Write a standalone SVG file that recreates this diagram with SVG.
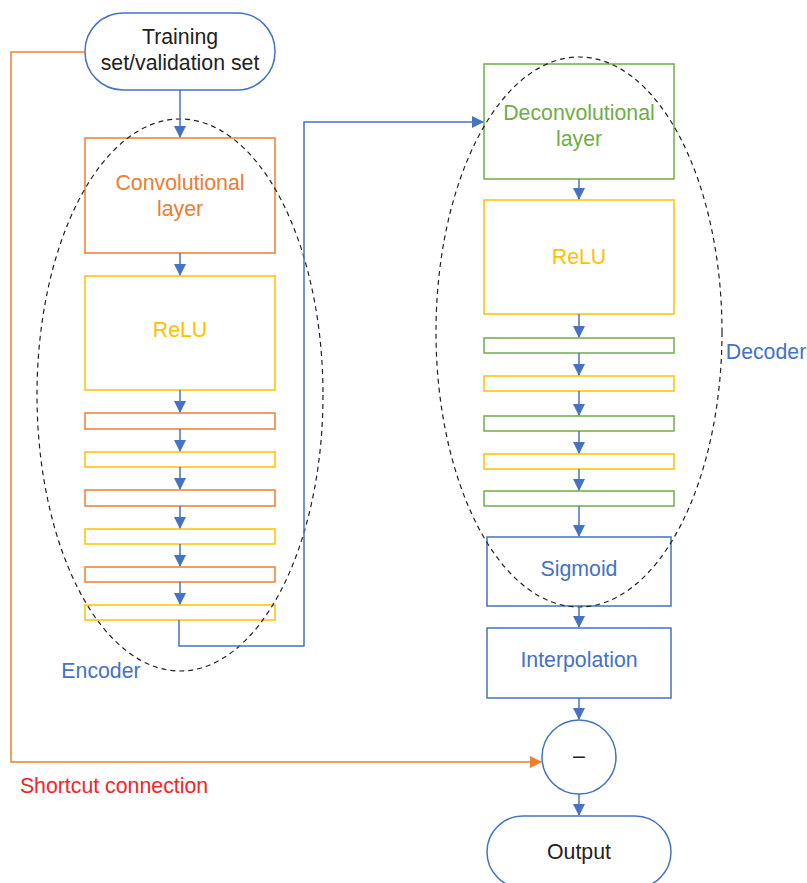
<svg xmlns="http://www.w3.org/2000/svg" width="807" height="883" viewBox="0 0 807 883">
<style>
text{font-family:"Liberation Sans",Arial,sans-serif;font-size:21.3px;text-anchor:middle;dominant-baseline:central}
.b{fill:#fff;stroke-width:1.5}
.or{stroke:#ED7D31}.ye{stroke:#FFC000}.gr{stroke:#70AD47}.bl{stroke:#4472C4}
.tor{fill:#ED7D31}.tye{fill:#FFC000}.tgr{fill:#70AD47}.tbl{fill:#4472C4}.tk{fill:#222}
.c{fill:none;stroke:#4472C4;stroke-width:1.5}
.e{fill:none;stroke:#222;stroke-width:1.2;stroke-dasharray:5 4}
</style>
<defs>
<marker id="ab" markerWidth="12" markerHeight="12" refX="11" refY="6" orient="auto" markerUnits="userSpaceOnUse"><path d="M0,0 L12,6 L0,12 z" fill="#4472C4"/></marker>
<marker id="ao" markerWidth="12" markerHeight="12" refX="11" refY="6" orient="auto" markerUnits="userSpaceOnUse"><path d="M0,0 L12,6 L0,12 z" fill="#ED7D31"/></marker>
</defs>
<g id="input"><rect class="b bl" x="85" y="13" width="190" height="77" rx="38"/><text class="tk" x="180" y="37">Training</text><text class="tk" x="180" y="63">set/validation set</text></g>
<g id="conv"><rect class="b or" x="85" y="138" width="190" height="115"/><text class="tor" x="180" y="183">Convolutional</text><text class="tor" x="180" y="209">layer</text></g>
<g id="relu1"><rect class="b ye" x="85" y="276" width="190" height="114"/><text class="tye" x="180" y="330">ReLU</text></g>
<g id="e1"><rect class="b or" x="85" y="413" width="190" height="16"/></g>
<g id="e2"><rect class="b ye" x="85" y="452" width="190" height="15"/></g>
<g id="e3"><rect class="b or" x="85" y="490" width="190" height="16"/></g>
<g id="e4"><rect class="b ye" x="85" y="529" width="190" height="15"/></g>
<g id="e5"><rect class="b or" x="85" y="567" width="190" height="15"/></g>
<g id="e6"><rect class="b ye" x="85" y="605" width="190" height="15"/></g>
<g id="deconv"><rect class="b gr" x="484" y="64" width="190" height="115"/><text class="tgr" x="579" y="113">Deconvolutional</text><text class="tgr" x="579" y="139">layer</text></g>
<g id="relu2"><rect class="b ye" x="484" y="200" width="190" height="114"/><text class="tye" x="579" y="257">ReLU</text></g>
<g id="d1"><rect class="b gr" x="484" y="338" width="190" height="15"/></g>
<g id="d2"><rect class="b ye" x="484" y="376" width="190" height="15"/></g>
<g id="d3"><rect class="b gr" x="484" y="416" width="190" height="15"/></g>
<g id="d4"><rect class="b ye" x="484" y="454" width="190" height="15"/></g>
<g id="d5"><rect class="b gr" x="484" y="491" width="190" height="15"/></g>
<g id="sigmoid"><rect class="b bl" x="487" y="537" width="184" height="69"/><text class="tbl" x="579" y="569">Sigmoid</text></g>
<g id="interp"><rect class="b bl" x="487" y="628" width="184" height="70"/><text class="tbl" x="579" y="660">Interpolation</text></g>
<g id="minus"><circle class="b bl" cx="579" cy="757" r="37"/><text class="tk" x="579" y="756">–</text></g>
<g id="output"><rect class="b bl" x="487" y="816" width="184" height="72" rx="36"/><text class="tk" x="579" y="852">Output</text></g>
<g id="groups">
<ellipse class="e" cx="180" cy="395" rx="143" ry="276"/>
<ellipse class="e" cx="579" cy="332" rx="143" ry="275"/>
<text class="tbl" x="101" y="671">Encoder</text>
<text class="tbl" x="766" y="352">Decoder</text>
</g>
<g id="connectors">
<path class="c" d="M180,90 V137" marker-end="url(#ab)"/>
<path class="c" d="M180,253 V275" marker-end="url(#ab)"/>
<path class="c" d="M180,390 V412" marker-end="url(#ab)"/>
<path class="c" d="M180,429 V451" marker-end="url(#ab)"/>
<path class="c" d="M180,467 V489" marker-end="url(#ab)"/>
<path class="c" d="M180,506 V528" marker-end="url(#ab)"/>
<path class="c" d="M180,544 V566" marker-end="url(#ab)"/>
<path class="c" d="M180,582 V604" marker-end="url(#ab)"/>
<path class="c" d="M179,620 V646 H304 V122 H483" marker-end="url(#ab)"/>
<path class="c" d="M579,179 V199" marker-end="url(#ab)"/>
<path class="c" d="M579,314 V337" marker-end="url(#ab)"/>
<path class="c" d="M579,353 V375" marker-end="url(#ab)"/>
<path class="c" d="M579,391 V415" marker-end="url(#ab)"/>
<path class="c" d="M579,431 V453" marker-end="url(#ab)"/>
<path class="c" d="M579,469 V490" marker-end="url(#ab)"/>
<path class="c" d="M579,506 V536" marker-end="url(#ab)"/>
<path class="c" d="M579,606 V627" marker-end="url(#ab)"/>
<path class="c" d="M579,698 V719" marker-end="url(#ab)"/>
<path class="c" d="M579,794 V815" marker-end="url(#ab)"/>
<path d="M85,52 H11 V762 H541" fill="none" stroke="#ED7D31" stroke-width="1.5" marker-end="url(#ao)"/>
<text x="114" y="786" fill="#F0262A">Shortcut connection</text>
</g>
</svg>
